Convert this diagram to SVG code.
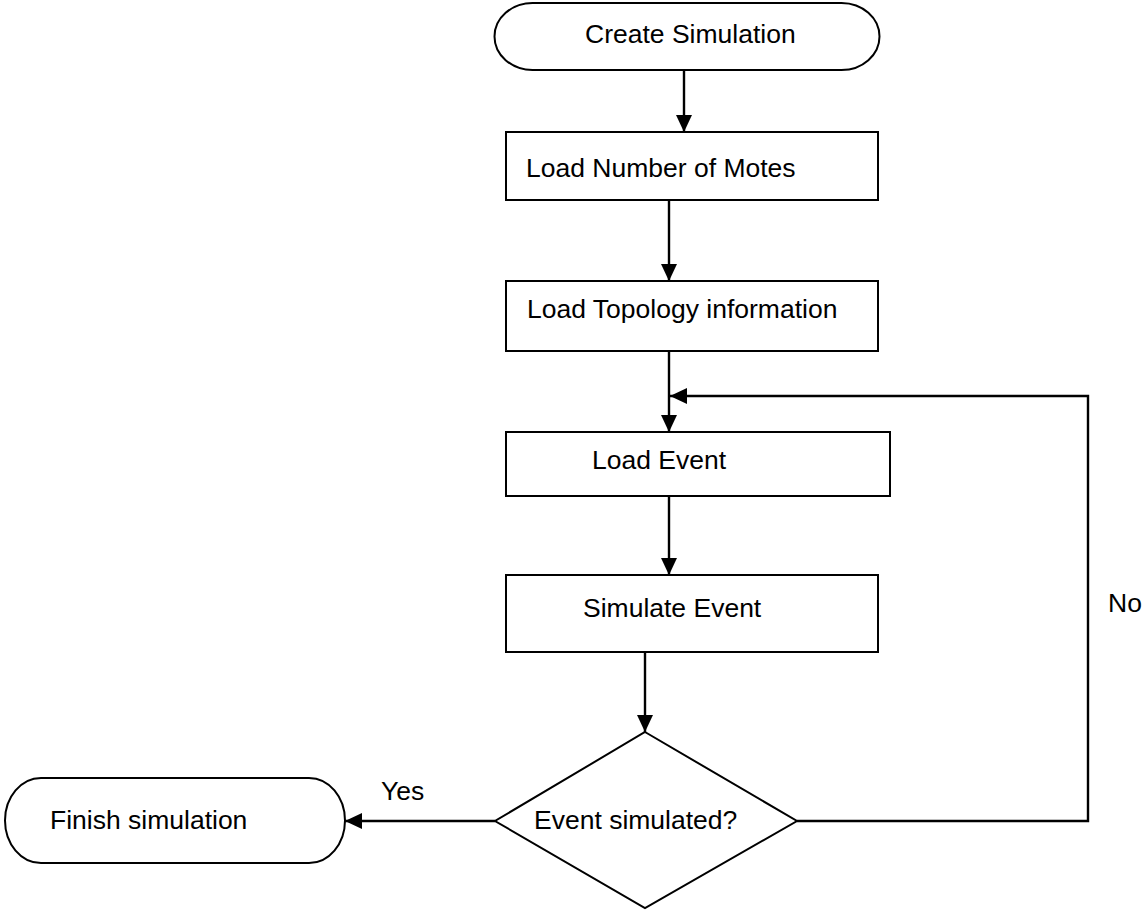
<svg xmlns="http://www.w3.org/2000/svg" width="1144" height="911" viewBox="0 0 1144 911">
  <style>
    .shape { fill: #ffffff; stroke: #000000; stroke-width: 2; }
    .label { font-family: "Liberation Sans", Arial, sans-serif; font-size: 26.5px; fill: #000000; }
    .wire { fill: none; stroke: #000000; stroke-width: 2.4; }
  </style>
  <defs>
    <marker id="arrow" markerUnits="userSpaceOnUse" markerWidth="18" markerHeight="16" refX="17" refY="8" orient="auto">
      <path d="M0,0 L17,8 L0,16 Z" fill="#000000"/>
    </marker>
  </defs>

  <rect width="1144" height="911" fill="#ffffff"/>

  <!-- connectors -->
  <g id="connectors">
    <line class="wire" x1="684" y1="70" x2="684" y2="132" marker-end="url(#arrow)"/>
    <line class="wire" x1="669" y1="200" x2="669" y2="281" marker-end="url(#arrow)"/>
    <line class="wire" x1="669" y1="351" x2="669" y2="432" marker-end="url(#arrow)"/>
    <line class="wire" x1="669" y1="496" x2="669" y2="575" marker-end="url(#arrow)"/>
    <line class="wire" x1="645" y1="652" x2="645" y2="732" marker-end="url(#arrow)"/>
    <polyline class="wire" points="797,821 1088,821 1088,396 670,396" marker-end="url(#arrow)"/>
    <line class="wire" x1="495" y1="821" x2="345" y2="821" marker-end="url(#arrow)"/>
    <text class="label" x="381" y="800">Yes</text>
    <text class="label" x="1108" y="612">No</text>
  </g>

  <g id="create-simulation">
    <rect class="shape" x="494.5" y="3" width="385" height="67" rx="38" ry="33.5"/>
    <text class="label" x="585" y="43">Create Simulation</text>
  </g>

  <g id="load-motes">
    <rect class="shape" x="506" y="132" width="372" height="68"/>
    <text class="label" x="526" y="177">Load Number of Motes</text>
  </g>

  <g id="load-topology">
    <rect class="shape" x="506" y="281" width="372" height="70"/>
    <text class="label" x="527" y="318">Load Topology information</text>
  </g>

  <g id="load-event">
    <rect class="shape" x="506" y="432" width="384" height="64"/>
    <text class="label" x="592" y="469">Load Event</text>
  </g>

  <g id="simulate-event">
    <rect class="shape" x="506" y="575" width="372" height="77"/>
    <text class="label" x="583" y="617">Simulate Event</text>
  </g>

  <g id="event-simulated">
    <polygon class="shape" points="645,732 797,821 645,908 495,821"/>
    <text class="label" x="534" y="829">Event simulated?</text>
  </g>

  <g id="finish-simulation">
    <rect class="shape" x="5" y="778" width="340" height="85" rx="36" ry="42.5"/>
    <text class="label" x="50" y="829">Finish simulation</text>
  </g>
</svg>
